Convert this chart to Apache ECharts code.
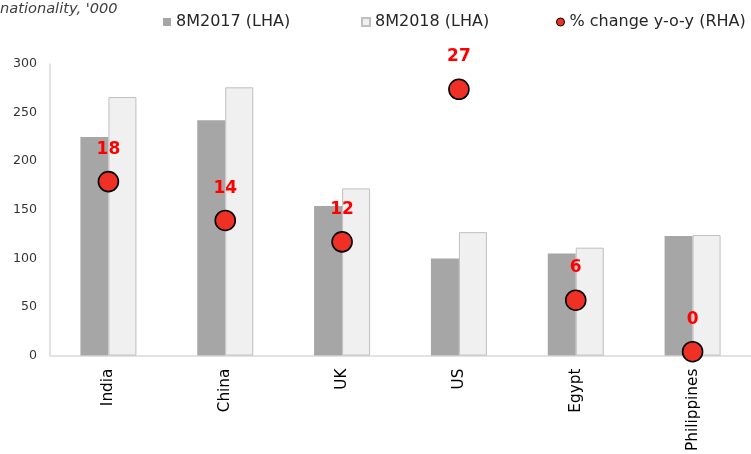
<!DOCTYPE html>
<html>
<head>
<meta charset="utf-8">
<style>
  html, body { margin: 0; padding: 0; background: #ffffff; }
  #chart { width: 751px; height: 454px; }
</style>
<script src="https://cdn.jsdelivr.net/npm/echarts@6/dist/echarts.min.js"></script>
</head>
<body>
<div id="chart"></div>
<script>
// Visitor arrivals by nationality, '000 (8 months), with y-o-y change
const countries = ['India', 'China', 'UK', 'US', 'Egypt', 'Philippines'];
const arrivals2017 = [225, 242, 154, 100, 105, 123];
const arrivals2018 = [266, 276, 172, 127, 111, 124];
const changeYoY = [17.9, 13.9, 11.7, 27.4, 5.7, 0.4];
const leftTicks = { min: 0, max: 300, interval: 50 };
const rightRange = { min: 0, max: 30 };

const FONT = 'DejaVu Sans, Verdana, sans-serif';
const chart = echarts.init(document.getElementById('chart'), null, { renderer: 'canvas' });

const legendBase = {
  top: 9,
  itemWidth: 8,
  itemHeight: 8,
  itemGap: 5,
  textStyle: { fontFamily: FONT, fontSize: 16, color: '#262626' }
};

chart.setOption({
  animation: false,
  backgroundColor: '#ffffff',
  graphic: [{
    type: 'text',
    x: 0,
    y: 9,
    style: {
      text: "nationality, '000",
      font: 'italic 14.6px "DejaVu Sans", Verdana, sans-serif',
      fill: '#404040',
      verticalAlign: 'middle'
    }
  }],
  legend: [
    Object.assign({}, legendBase, { left: 158, data: [{ name: '8M2017 (LHA)', icon: 'rect' }] }),
    Object.assign({}, legendBase, { left: 356, data: [{ name: '8M2018 (LHA)', icon: 'rect' }] }),
    Object.assign({}, legendBase, {
      left: 551,
      data: [{ name: '% change y-o-y (RHA)', icon: 'circle', itemStyle: { borderWidth: 1 } }]
    })
  ],
  grid: { left: 50, right: -5, top: 64, bottom: 96, containLabel: false },
  xAxis: {
    type: 'category',
    data: countries,
    axisLine: { show: true, lineStyle: { color: '#D9D9D9', width: 1.5 } },
    axisTick: { show: false },
    axisLabel: {
      rotate: 90,
      margin: 13,
      interval: 0,
      fontFamily: FONT,
      fontSize: 15.3,
      color: '#000000'
    }
  },
  yAxis: [
    {
      type: 'value',
      min: leftTicks.min,
      max: leftTicks.max,
      interval: leftTicks.interval,
      axisLine: { show: true, lineStyle: { color: '#D9D9D9', width: 1.5 } },
      axisTick: { show: false },
      splitLine: { show: false },
      axisLabel: { margin: 13, fontFamily: FONT, fontSize: 12.6, color: '#333333' }
    },
    {
      type: 'value',
      min: rightRange.min,
      max: rightRange.max,
      show: false,
      splitLine: { show: false }
    }
  ],
  series: [
    {
      name: '8M2017 (LHA)',
      type: 'bar',
      data: arrivals2017,
      barWidth: 28,
      barGap: '0%',
      itemStyle: { color: '#A6A6A6' }
    },
    {
      name: '8M2018 (LHA)',
      type: 'bar',
      data: arrivals2018,
      barWidth: 28,
      barGap: '0%',
      itemStyle: { color: '#F0F0F0', borderColor: '#BFBFBF', borderWidth: 1 }
    },
    {
      name: '% change y-o-y (RHA)',
      type: 'scatter',
      yAxisIndex: 1,
      data: changeYoY,
      symbol: 'circle',
      symbolSize: 20,
      z: 5,
      clip: false,
      itemStyle: { color: '#EE3124', borderColor: '#000000', borderWidth: 1.6, opacity: 1 },
      emphasis: { disabled: true },
      label: {
        show: true,
        position: 'top',
        distance: 13,
        formatter: p => Math.round(p.value).toString(),
        fontFamily: FONT,
        fontWeight: 'bold',
        fontSize: 17,
        color: '#FF0000'
      }
    }
  ]
});
</script>
</body>
</html>
